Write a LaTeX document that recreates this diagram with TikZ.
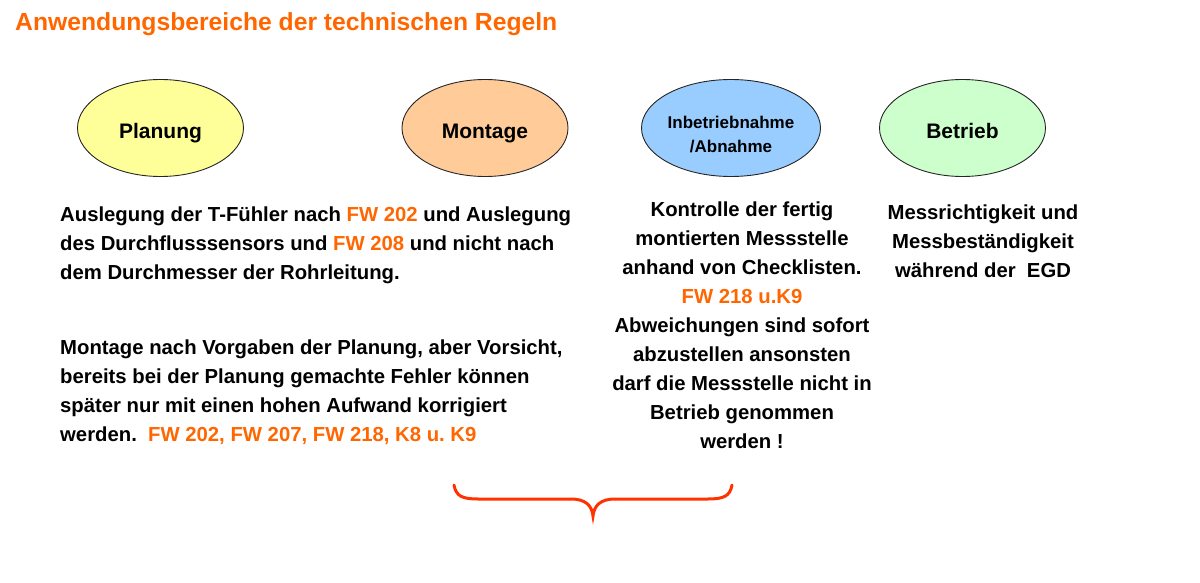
\documentclass[tikz,border=0pt]{standalone}
\usepackage{fontspec}
\setmainfont{Liberation Sans}
\usetikzlibrary{shapes.geometric,positioning}
\frenchspacing

\definecolor{regelorange}{HTML}{FF6600}
\definecolor{klammerrot}{HTML}{FF3300}
\definecolor{planungfarbe}{HTML}{FFFF99}
\definecolor{montagefarbe}{HTML}{FFCC99}
\definecolor{abnahmefarbe}{HTML}{99CCFF}
\definecolor{betriebfarbe}{HTML}{CCFFCC}
\newcommand{\fw}[1]{\textcolor{regelorange}{#1}}

\begin{document}
\begin{tikzpicture}[x=1pt,y=-1pt,
    phase/.style={ellipse,draw=black!85,line width=0.9pt,minimum width=166pt,minimum height=97pt,inner sep=0pt,font=\bfseries\fontsize{21}{24}\selectfont},
    einzeilig/.style={text height=21.5pt,text depth=0pt},
    info/.style={inner sep=0pt,font=\bfseries\fontsize{20.3}{29}\selectfont}]
\useasboundingbox (0,0) rectangle (1200,583);

% Titel
\node[anchor=base west,inner sep=0pt,text=regelorange,font=\bfseries\fontsize{24.7}{28}\selectfont] (titel) at (15,31) {Anwendungsbereiche der technischen Regeln};

% Phasen
\node[phase,einzeilig,fill=planungfarbe] (planung) at (160.5,128) {Planung};
\node[phase,einzeilig,fill=montagefarbe] (montage) at (485,128) {Montage};
\node[phase,fill=abnahmefarbe,font=\bfseries\fontsize{17}{24}\selectfont] (abnahme) at (731,128)
    {\raisebox{-7.5pt}[\height][\depth]{\begin{tabular}{@{}c@{}}Inbetriebnahme\\/Abnahme\end{tabular}}};
\node[phase,einzeilig,fill=betriebfarbe] (betrieb) at (962.5,128) {Betrieb};

% Texte
\node[info,anchor=north west,align=left] (auslegung) at (60,207)
    {Auslegung der T-Fühler nach \fw{FW 202} und Auslegung\\
     des Durchflusssensors und \fw{FW 208} und nicht nach\\
     dem Durchmesser der Rohrleitung.};
\node[info,anchor=north west,align=left] (vorgaben) at (60,340)
    {Montage nach Vorgaben der Planung, aber Vorsicht,\\
     bereits bei der Planung gemachte Fehler können\\
     später nur mit einen hohen Aufwand korrigiert\\
     werden.\ \ \fw{FW 202, FW 207, FW 218, K8 u. K9}};
\node[info,anchor=north,align=center] (kontrolle) at (742,202)
    {Kontrolle der fertig\\
     montierten Messstelle\\
     anhand von Checklisten.\\
     \fw{FW 218 u.K9}\\
     Abweichungen sind sofort\\
     abzustellen ansonsten\\
     darf die Messstelle nicht in\\
     Betrieb genommen\\
     werden !};
\node[info,anchor=north,align=center] (messung) at (983,205)
    {Messrichtigkeit und\\
     Messbeständigkeit\\
     während der\ \ EGD};

% Klammer
\coordinate (kl) at (454,485);
\coordinate (km) at (593,516);
\coordinate (kr) at (732,485);
\draw[klammerrot,line width=3pt,line cap=round]
    (kl) .. controls (456,496) and (462,499) .. (478,499) -- (571,499)
    .. controls (586,499) and (592,506) .. (km)
    .. controls (594,506) and (600,499) .. (615,499) -- (708,499)
    .. controls (724,499) and (730,496) .. (kr);
\end{tikzpicture}
\end{document}
